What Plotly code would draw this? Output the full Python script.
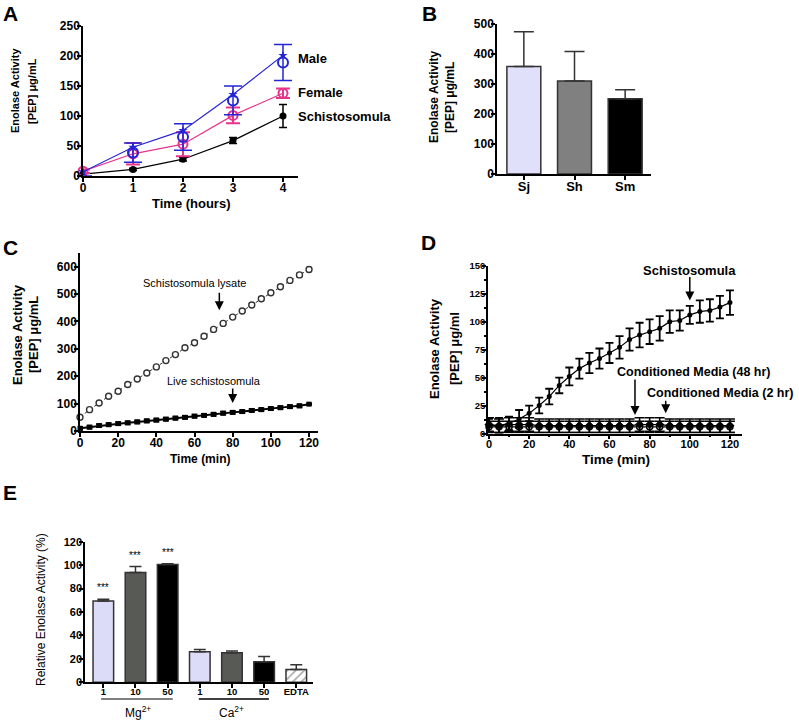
import plotly.graph_objects as go

FONT = "Arial, Liberation Sans, sans-serif"
W, H = 799, 720

# ---- panel A: enolase activity by sex / stage ----
hours = [0, 1, 2, 3, 4]
male = [-3, 39, 65, 126, 189]
male_err = [3, 16, 22, 24, 30]
male_alt = [7, 48, 76, 136, 201]
female = [8, 37, 53, 101, 138]
female_err = [3, 18, 20, 13, 8]
schisto = [3, 11, 28, 59, 100]
schisto_err = [1, 2, 3, 5, 19]

# ---- panel B: species ----
species = ["Sj", "Sh", "Sm"]
species_act = [358, 310, 251]
species_err = [116, 98, 30]
species_colors = ["#e0e0fa", "#808080", "#000000"]

# ---- panel C: lysate vs live ----
minutes = [0, 5, 10, 15, 20, 25, 30, 35, 40, 45, 50, 55, 60, 65, 70, 75, 80, 85,
           90, 95, 100, 105, 110, 115, 120]
lysate = [50, 78, 102, 127, 145, 170, 190, 212, 234, 257, 279, 304, 322, 346, 371,
          393, 416, 438, 460, 483, 505, 527, 550, 570, 590]
lysate_err = [3, 3, 3, 3, 3, 3, 3, 3, 3, 3, 3, 4, 4, 4, 4, 5, 5, 5, 5, 6, 6, 6, 6, 7, 8]
live = [10, 14, 20, 23, 27, 30, 33, 37, 40, 43, 47, 50, 54, 57, 61, 65, 68, 71, 75,
        78, 82, 85, 89, 92, 98]
live_err = [5, 5, 5, 5, 5, 5, 5, 5, 5, 5, 5, 5, 5, 5, 5, 5, 5, 5, 5, 5, 5, 5, 5, 5, 2]

# ---- panel D: live schistosomula vs conditioned media ----
schisto_live = [7, 7, 9, 13, 18, 25, 33, 43, 51, 58, 63, 67, 72, 77, 84, 88, 91, 94,
                100, 101, 106, 109, 110, 113, 117]
schisto_live_err = [6, 7, 6, 8, 7, 7, 7, 7, 8, 9, 9, 9, 9, 10, 10, 11, 11, 11, 10, 9,
                    8, 10, 10, 10, 11]
cm48 = [8, 7, 8, 8, 8, 7, 7, 7, 7, 7, 7, 7, 7, 7, 7, 8, 8, 8, 7, 7, 7, 7, 7, 7, 7]
cm48_err = [6, 6, 6, 6, 6, 6, 6, 6, 6, 6, 6, 6, 6, 6, 6, 6, 6, 6, 6, 6, 6, 6, 6, 6, 6]
cm2 = [6, 6, 6, 6, 6, 6, 6, 6, 6, 6, 6, 6, 6, 6, 6, 6, 6, 6, 6, 6, 6, 6, 6, 6, 6]
cm2_err = [5, 5, 5, 5, 5, 5, 5, 5, 5, 5, 5, 5, 5, 5, 5, 5, 5, 5, 5, 5, 5, 5, 5, 5, 5]

# ---- panel E: metal ions ----
ions = ["1", "10", "50", "1", "10", "50", "EDTA"]
rel_act = [69.4, 93.8, 100.6, 26, 25.3, 17.6, 11]
rel_err = [1.5, 5, 0.6, 2, 1.4, 4.4, 4]
ion_colors = ["#dcdcf8", "#585a55", "#000000", "#dcdcf8", "#585a55", "#000000", "#ffffff"]
ion_patterns = ["", "", "", "", "", "", "/"]
signif = ["***", "***", "***", "", "", "", ""]


def fx(px):
    return px / W


def fy(py):
    return 1 - py / H


def axis(dom, rng, size=12, weight="bold", letter="x", **kw):
    d = dict(domain=dom, range=rng, showline=True, linecolor="black", linewidth=1.5,
             ticks="outside", ticklen=4, tickwidth=1.5, tickcolor="black",
             showgrid=False, zeroline=False, fixedrange=True, automargin=False,
             ticklabelstandoff=-4 if letter == "x" else -5,
             tickfont=dict(family=FONT, size=size, weight=weight, color="black"))
    d.update(kw)
    return d


fig = go.Figure()

# A
fig.add_trace(go.Scatter(x=hours, y=schisto, mode="lines+markers", xaxis="x", yaxis="y",
                         line=dict(color="black", width=1.2),
                         marker=dict(color="black", size=7),
                         error_y=dict(array=schisto_err, color="black", thickness=1.5, width=4),
                         cliponaxis=False))
fig.add_trace(go.Scatter(x=hours, y=female, mode="lines+markers", xaxis="x", yaxis="y",
                         line=dict(color="#e6358b", width=1.2),
                         marker=dict(color="#e6358b", size=9, symbol="circle-open",
                                     line=dict(width=2)),
                         error_y=dict(array=female_err, color="#e6358b", thickness=2, width=7),
                         cliponaxis=False))
fig.add_trace(go.Scatter(x=hours, y=male_alt, mode="lines+markers", xaxis="x", yaxis="y",
                         line=dict(color="#2424d8", width=1.2),
                         marker=dict(color="#2424d8", size=7, symbol="star"),
                         cliponaxis=False))
fig.add_trace(go.Scatter(x=hours, y=male, mode="markers", xaxis="x", yaxis="y",
                         marker=dict(color="#2424d8", size=10, symbol="circle-open",
                                     line=dict(width=2)),
                         error_y=dict(array=male_err, color="#2424d8", thickness=1.5, width=9),
                         cliponaxis=False))

# B
fig.add_trace(go.Bar(x=[0, 1, 2], y=species_act, xaxis="x2", yaxis="y2", width=0.67,
                     marker=dict(color=species_colors, line=dict(color="#333333", width=1.5)),
                     error_y=dict(type="data", symmetric=False, array=species_err,
                                  arrayminus=[0, 0, 0], color="#333333", thickness=1.5,
                                  width=10)))

# C
fig.add_trace(go.Scatter(x=minutes, y=live, mode="lines+markers", xaxis="x3", yaxis="y3",
                         line=dict(color="black", width=2),
                         marker=dict(color="black", size=5, symbol="square"),
                         error_y=dict(array=live_err, color="black", thickness=2, width=3),
                         cliponaxis=False))
fig.add_trace(go.Scatter(x=minutes, y=lysate, mode="lines+markers", xaxis="x3", yaxis="y3",
                         line=dict(color="#333333", width=1, dash="dot"),
                         marker=dict(color="white", size=6, symbol="circle",
                                     line=dict(color="#333333", width=1.4)),
                         error_y=dict(array=lysate_err, color="#333333", thickness=1.2, width=3),
                         cliponaxis=False))

# D
fig.add_trace(go.Scatter(x=minutes, y=cm2, mode="lines+markers", xaxis="x4", yaxis="y4",
                         line=dict(color="black", width=1.2),
                         marker=dict(color="white", size=6, symbol="circle",
                                     line=dict(color="black", width=1.5)),
                         error_y=dict(array=cm2_err, color="black", thickness=1.5, width=5),
                         cliponaxis=False))
fig.add_trace(go.Scatter(x=minutes, y=cm48, mode="lines+markers", xaxis="x4", yaxis="y4",
                         line=dict(color="black", width=1.2),
                         marker=dict(color="black", size=7, symbol="diamond"),
                         error_y=dict(array=cm48_err, color="black", thickness=1.5, width=5),
                         cliponaxis=False))
fig.add_trace(go.Scatter(x=minutes, y=schisto_live, mode="lines+markers", xaxis="x4", yaxis="y4",
                         line=dict(color="black", width=1.2),
                         marker=dict(color="black", size=5),
                         error_y=dict(array=schisto_live_err, color="black", thickness=1.8,
                                      width=4),
                         cliponaxis=False))

# E
fig.add_trace(go.Bar(x=list(range(len(ions))), y=rel_act, xaxis="x5", yaxis="y5", width=0.64,
                     marker=dict(color=ion_colors, line=dict(color="#333333", width=1.5),
                                 pattern=dict(shape=ion_patterns, fgcolor="black",
                                              bgcolor="white", size=6, solidity=0.25)),
                     error_y=dict(type="data", symmetric=False, array=rel_err,
                                  arrayminus=[0] * len(ions), color="#333333",
                                  thickness=1.5, width=6)))

fig.update_layout(
    width=W, height=H, margin=dict(l=0, r=0, t=0, b=0, pad=0, autoexpand=False),
    paper_bgcolor="white", plot_bgcolor="white", showlegend=False,
    font=dict(family=FONT, color="black"),
    xaxis=axis([fx(83), fx(298)], [0, 4.3], size=12, anchor="y", dtick=1),
    yaxis=axis([fy(176), fy(26)], [0, 250], size=12, letter="y", anchor="x", dtick=50),
    xaxis2=axis([fx(497), fx(651)], [-0.53, 2.51], size=13, anchor="y2",
                tickvals=[0, 1, 2], ticktext=species),
    yaxis2=axis([fy(174), fy(24)], [0, 500], size=12, letter="y", anchor="x2", dtick=100),
    xaxis3=axis([fx(80), fx(318)], [0, 124.7], size=12, anchor="y3", dtick=20),
    yaxis3=axis([fy(431), fy(253)], [0, 650], size=12, letter="y", anchor="x3",
                tickvals=[0, 100, 200, 300, 400, 500, 600]),
    xaxis4=axis([fx(488), fx(742)], [-0.5, 126], size=11, anchor="y4", dtick=20,
                minor=dict(dtick=10, ticklen=2, ticks="outside", tickcolor="black")),
    yaxis4=axis([fy(433.5), fy(265.7)], [0, 150], size=9.5, letter="y", anchor="x4", dtick=25,
                minor=dict(dtick=12.5, ticklen=2, ticks="outside", tickcolor="black")),
    xaxis5=axis([fx(85), fx(313)], [-0.57, 6.52], size=9.5, anchor="y5",
                tickvals=list(range(len(ions))), ticktext=ions),
    yaxis5=axis([fy(682.3), fy(541.7)], [0, 120], size=11, letter="y", anchor="x5", dtick=20),
)

ann = []


def text(x, y, s, size=12, weight="bold", angle=0, xanchor="center"):
    ann.append(dict(x=fx(x), y=fy(y), xref="paper", yref="paper", text=s, showarrow=False,
                    textangle=angle, xanchor=xanchor, yanchor="middle",
                    font=dict(family=FONT, size=size, weight=weight, color="black")))


# panel letters
for letter, lx, ly in [("A", 1, 13), ("B", 420, 13), ("C", 1, 247), ("D", 419, 242),
                       ("E", 1, 492)]:
    text(lx, ly, letter, size=21, xanchor="left")

# axis titles
text(15, 91, "Enolase Activity", size=11, angle=-90)
text(32, 91, "[PEP] μg/mL", size=11, angle=-90)
text(191, 203, "Time (hours)", size=13)
text(434, 97, "Enolase Activity", size=12, angle=-90)
text(450, 97, "[PEP] μg/mL", size=12, angle=-90)
text(17, 335, "Enolase Activity", size=13, angle=-90)
text(33, 335, "[PEP] μg/mL", size=13, angle=-90)
text(200, 459, "Time (min)", size=12)
text(434, 349, "Enolase Activity", size=13, angle=-90)
text(454, 349, "[PEP] μg/ml", size=13, angle=-90)
text(616, 460, "Time (min)", size=13.5)
text(41, 610, "Relative Enolase Activity (%)", size=12, weight="normal", angle=-90)
text(138, 712, "Mg<sup>2+</sup>", size=12, weight="normal")
text(232, 712, "Ca<sup>2+</sup>", size=12, weight="normal")

# series labels in A
text(296, 58, "Male", size=13, xanchor="left")
text(296, 93, "Female", size=13, xanchor="left")
text(296, 117, "Schistosomula", size=13, xanchor="left")


def label(xa, ya, x, y, s, size, weight):
    ann.append(dict(x=x, y=y, xref=xa, yref=ya, text=s, showarrow=False,
                    font=dict(family=FONT, size=size, weight=weight, color="black")))


def arrow(xa, ya, x, y, length):
    ann.append(dict(x=x, y=y, xref=xa, yref=ya, text="", showarrow=True, arrowhead=2,
                    arrowsize=1.2, arrowwidth=1.5, arrowcolor="black", ax=0, ay=-length))


# C notes
label("x3", "y3", 60, 540, "Schistosomula lysate", 11, "normal")
arrow("x3", "y3", 73, 441, 19)
label("x3", "y3", 70, 182, "Live schistosomula", 11, "normal")
arrow("x3", "y3", 80, 102, 16)

# D notes
label("x4", "y4", 100, 146, "Schistosomula", 13, "bold")
arrow("x4", "y4", 100, 119, 25)
label("x4", "y4", 101.6, 55, "Conditioned Media (48 hr)", 12.5, "bold")
arrow("x4", "y4", 72.7, 16.5, 37)
label("x4", "y4", 115.5, 36, "Conditioned Media (2 hr)", 12.5, "bold")
arrow("x4", "y4", 88, 18, 14)

# E significance stars
for i, s in enumerate(signif):
    if s:
        ann.append(dict(x=i, y=rel_act[i] + rel_err[i], xref="x5", yref="y5", text=s,
                        showarrow=False, yanchor="bottom", yshift=4,
                        font=dict(family=FONT, size=10, color="black")))

fig.update_layout(annotations=ann)

# Mg / Ca grouping lines under E
fig.add_shape(type="line", xref="x5", yref="paper", x0=-0.07, x1=2.16, y0=fy(699),
              y1=fy(699), line=dict(color="#555555", width=1.5))
fig.add_shape(type="line", xref="x5", yref="paper", x0=2.97, x1=5.15, y0=fy(699),
              y1=fy(699), line=dict(color="black", width=1.5))

# page body has a default 8px margin; drop it so the figure sits at the window corner
fig.write_html("out.html", config={"displayModeBar": False},
               post_script="document.body.style.margin = '0px';")
